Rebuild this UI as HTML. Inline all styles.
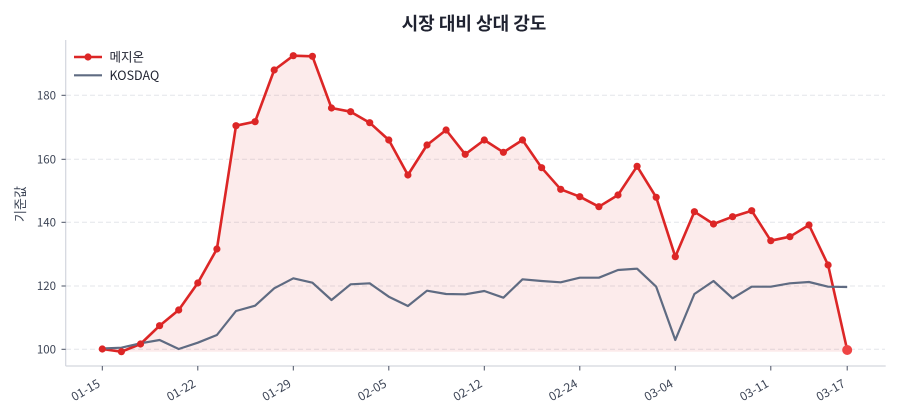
<!DOCTYPE html>
<html>
<head>
<meta charset="utf-8">
<style>
html,body{margin:0;padding:0;background:#fff;}
svg{display:block;}
text{font-family:"Noto Sans CJK KR","Liberation Sans",sans-serif;}
</style>
</head>
<body>
<svg width="900" height="420" viewBox="0 0 900 420" xmlns="http://www.w3.org/2000/svg">
  <rect width="900" height="420" fill="#fff"/>
  <!-- title -->
  <text x="474" y="30" text-anchor="middle" font-size="18" font-weight="700" fill="#1f2230">시장 대비 상대 강도</text>

  <!-- grid -->
  <g stroke="#e3e5ea" stroke-width="1" stroke-dasharray="5,3">
    <line x1="66" x2="885" y1="95.3" y2="95.3"/>
    <line x1="66" x2="885" y1="159.3" y2="159.3"/>
    <line x1="66" x2="885" y1="222.3" y2="222.3"/>
    <line x1="66" x2="885" y1="286" y2="286"/>
    <line x1="66" x2="885" y1="349.3" y2="349.3"/>
  </g>

  <!-- fill -->
  <polygon fill="#dc2626" fill-opacity="0.09" points="102.3,349 121.4,351.7 140.5,344 159.6,325.7 178.7,310 197.8,283 216.9,249 236,125.7 255.1,121.7 274.2,70 293.3,55.7 312.4,56.3 331.5,108 350.6,111.7 369.7,122.7 388.8,140 407.9,175 427,145 446.1,130 465.2,154.3 484.3,140 503.4,152.3 522.5,140 541.6,167.7 560.7,189.3 579.8,196.7 598.9,206.7 618,195 637.1,166.3 656.2,197.3 675.3,256.7 694.4,211.7 713.5,224 732.6,216.7 751.7,210.7 770.8,240.7 789.9,236.7 809,225 828.1,265 847.2,350 847.2,351.7 102.3,351.7"/>

  <!-- spines -->
  <line x1="65.7" x2="65.7" y1="40" y2="366" stroke="#d3d6de" stroke-width="1.2"/>
  <line x1="65.7" x2="885.7" y1="366" y2="366" stroke="#d3d6de" stroke-width="1.2"/>

  <!-- y ticks -->
  <g stroke="#4a5163" stroke-width="1">
    <line x1="61.5" x2="65.7" y1="95.3" y2="95.3"/>
    <line x1="61.5" x2="65.7" y1="159.3" y2="159.3"/>
    <line x1="61.5" x2="65.7" y1="222.3" y2="222.3"/>
    <line x1="61.5" x2="65.7" y1="286" y2="286"/>
    <line x1="61.5" x2="65.7" y1="349.3" y2="349.3"/>
  </g>
  <g font-size="11.5" fill="#3d4556" text-anchor="end">
    <text x="56" y="99.5">180</text>
    <text x="56" y="163.5">160</text>
    <text x="56" y="226.5">140</text>
    <text x="56" y="290.2">120</text>
    <text x="56" y="353.5">100</text>
  </g>
  <text transform="translate(25,204) rotate(-90)" text-anchor="middle" font-size="13" fill="#3d4556">기준값</text>

  <!-- x ticks -->
  <g stroke="#4a5163" stroke-width="1">
    <line x1="102.3" x2="102.3" y1="366" y2="370.5"/>
    <line x1="197.8" x2="197.8" y1="366" y2="370.5"/>
    <line x1="293.3" x2="293.3" y1="366" y2="370.5"/>
    <line x1="388.8" x2="388.8" y1="366" y2="370.5"/>
    <line x1="484.3" x2="484.3" y1="366" y2="370.5"/>
    <line x1="579.8" x2="579.8" y1="366" y2="370.5"/>
    <line x1="675.3" x2="675.3" y1="366" y2="370.5"/>
    <line x1="770.8" x2="770.8" y1="366" y2="370.5"/>
    <line x1="847.2" x2="847.2" y1="366" y2="370.5"/>
  </g>
  <g font-size="12" fill="#3d4556" text-anchor="end">
    <text transform="translate(101,386) rotate(-30)">01-15</text>
    <text transform="translate(196.5,386) rotate(-30)">01-22</text>
    <text transform="translate(292,386) rotate(-30)">01-29</text>
    <text transform="translate(387.5,386) rotate(-30)">02-05</text>
    <text transform="translate(483,386) rotate(-30)">02-12</text>
    <text transform="translate(578.5,386) rotate(-30)">02-24</text>
    <text transform="translate(674,386) rotate(-30)">03-04</text>
    <text transform="translate(769.5,386) rotate(-30)">03-11</text>
    <text transform="translate(846,386) rotate(-30)">03-17</text>
  </g>

  <!-- red line -->
  <polyline fill="none" stroke="#dc2626" stroke-width="2.6" stroke-linejoin="round" points="102.3,349 121.4,351.7 140.5,344 159.6,325.7 178.7,310 197.8,283 216.9,249 236,125.7 255.1,121.7 274.2,70 293.3,55.7 312.4,56.3 331.5,108 350.6,111.7 369.7,122.7 388.8,140 407.9,175 427,145 446.1,130 465.2,154.3 484.3,140 503.4,152.3 522.5,140 541.6,167.7 560.7,189.3 579.8,196.7 598.9,206.7 618,195 637.1,166.3 656.2,197.3 675.3,256.7 694.4,211.7 713.5,224 732.6,216.7 751.7,210.7 770.8,240.7 789.9,236.7 809,225 828.1,265 847.2,350"/>

  <!-- gray line -->
  <polyline fill="none" stroke="#5f6b82" stroke-width="2.2" stroke-linejoin="round" points="102.3,348.5 121.4,347.7 140.5,343.3 159.6,340 178.7,349 197.8,342.7 216.9,335 236,311 255.1,305.7 274.2,288.3 293.3,278.3 312.4,282.7 331.5,300 350.6,284.3 369.7,283.3 388.8,296.7 407.9,306 427,290.7 446.1,294 465.2,294.3 484.3,291 503.4,297.7 522.5,279.3 541.6,281 560.7,282.3 579.8,277.7 598.9,277.7 618,270 637.1,268.7 656.2,286.7 675.3,340 694.4,294 713.5,281 732.6,298.3 751.7,286.7 770.8,286.7 789.9,283.3 809,282 828.1,286.7 847.2,287"/>

  <!-- markers -->
  <g fill="#dc2626">
    <circle cx="102.3" cy="349" r="3.6"/><circle cx="121.4" cy="351.7" r="3.6"/><circle cx="140.5" cy="344" r="3.6"/><circle cx="159.6" cy="325.7" r="3.6"/><circle cx="178.7" cy="310" r="3.6"/><circle cx="197.8" cy="283" r="3.6"/><circle cx="216.9" cy="249" r="3.6"/><circle cx="236" cy="125.7" r="3.6"/><circle cx="255.1" cy="121.7" r="3.6"/><circle cx="274.2" cy="70" r="3.6"/><circle cx="293.3" cy="55.7" r="3.6"/><circle cx="312.4" cy="56.3" r="3.6"/><circle cx="331.5" cy="108" r="3.6"/><circle cx="350.6" cy="111.7" r="3.6"/><circle cx="369.7" cy="122.7" r="3.6"/><circle cx="388.8" cy="140" r="3.6"/><circle cx="407.9" cy="175" r="3.6"/><circle cx="427" cy="145" r="3.6"/><circle cx="446.1" cy="130" r="3.6"/><circle cx="465.2" cy="154.3" r="3.6"/><circle cx="484.3" cy="140" r="3.6"/><circle cx="503.4" cy="152.3" r="3.6"/><circle cx="522.5" cy="140" r="3.6"/><circle cx="541.6" cy="167.7" r="3.6"/><circle cx="560.7" cy="189.3" r="3.6"/><circle cx="579.8" cy="196.7" r="3.6"/><circle cx="598.9" cy="206.7" r="3.6"/><circle cx="618" cy="195" r="3.6"/><circle cx="637.1" cy="166.3" r="3.6"/><circle cx="656.2" cy="197.3" r="3.6"/><circle cx="675.3" cy="256.7" r="3.6"/><circle cx="694.4" cy="211.7" r="3.6"/><circle cx="713.5" cy="224" r="3.6"/><circle cx="732.6" cy="216.7" r="3.6"/><circle cx="751.7" cy="210.7" r="3.6"/><circle cx="770.8" cy="240.7" r="3.6"/><circle cx="789.9" cy="236.7" r="3.6"/><circle cx="809" cy="225" r="3.6"/><circle cx="828.1" cy="265" r="3.6"/>
  </g>
  <circle cx="847.2" cy="350" r="5" fill="#ef4444"/>

  <!-- legend -->
  <line x1="74" x2="102" y1="57" y2="57" stroke="#dc2626" stroke-width="2.6"/>
  <circle cx="88" cy="57" r="3.6" fill="#dc2626"/>
  <text x="109.5" y="61.5" font-size="12.5" fill="#1f2230">메지온</text>
  <line x1="74" x2="102" y1="75.3" y2="75.3" stroke="#5f6b82" stroke-width="2.2"/>
  <text x="109.5" y="80" font-size="12.5" fill="#1f2230">KOSDAQ</text>
</svg>
</body>
</html>
